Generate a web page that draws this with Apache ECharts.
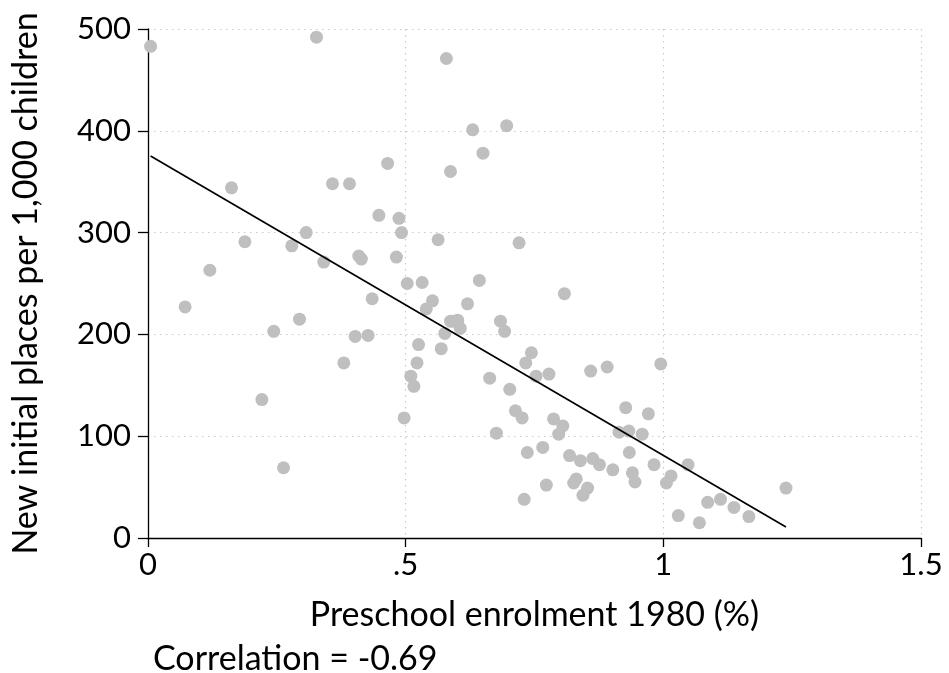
<!DOCTYPE html>
<html>
<head>
<meta charset="utf-8">
<script src="https://cdn.jsdelivr.net/npm/echarts@6/dist/echarts.min.js"></script>
<style>html,body{margin:0;padding:0;background:#fff}#c{width:949px;height:673px}</style>
</head>
<body>
<div id="c"></div>
<script>
// Preschool enrolment 1980 (share) for each point
const enrolment = [0.005,0.327,0.579,0.465,0.587,0.162,0.358,0.391,0.448,0.487,0.492,0.563,0.307,0.188,0.279,0.409,0.414,0.482,0.341,0.120,0.503,0.532,
  0.630,0.696,0.650,0.720,0.643,0.072,0.244,0.294,0.435,0.552,0.540,0.587,0.576,0.569,0.402,0.427,0.380,0.525,0.522,0.510,0.516,0.497,0.221,0.263,
  0.808,0.620,0.592,0.601,0.606,0.684,0.692,0.744,0.733,0.663,0.753,0.778,0.859,0.891,0.995,0.702,0.713,0.726,0.787,0.805,0.797,0.676,0.927,0.971,
  0.914,0.933,0.959,0.934,0.736,0.766,0.818,0.839,0.863,0.876,0.902,0.940,0.945,0.982,1.048,1.015,1.006,0.831,0.826,0.853,0.844,0.773,0.730,
  1.086,1.111,1.137,1.166,1.029,1.070,1.238];
// New initial places per 1,000 children
const places = [483,492,471,368,360,344,348,348,317,314,300,293,300,291,287,277,274,276,271,263,250,251,
  401,405,378,290,253,227,203,215,235,233,225,213,201,186,198,199,172,190,172,159,149,118,136,69,
  240,230,213,214,206,213,203,182,172,157,159,161,164,168,171,146,125,118,117,110,102,103,128,122,
  104,105,102,84,84,89,81,76,78,72,67,64,55,72,72,61,54,58,54,49,42,52,38,
  35,38,30,21,22,15,49];
// Fitted regression line endpoints
const fitX = [0.005, 1.238];
const fitY = [375.3, 10.8];
const xTicks = [0, 0.5, 1, 1.5];
const xTickLabels = ['0', '.5', '1', '1.5'];
const yTicks = [0, 100, 200, 300, 400, 500];
const xTitle = 'Preschool enrolment 1980 (%)';
const yTitle = 'New initial places per 1,000 children';
const note = 'Correlation = -0.69';

const FONT = 'Lato';
const chart = echarts.init(document.getElementById('c'), null, {renderer: 'canvas'});
chart.setOption({
  animation: false,
  backgroundColor: '#fff',
  grid: {left: 148, right: 28, top: 29, bottom: 135, containLabel: false},
  xAxis: {
    type: 'value', min: xTicks[0], max: xTicks[xTicks.length - 1], interval: 0.5,
    name: xTitle, nameLocation: 'middle', nameGap: 60,
    nameTextStyle: {fontFamily: FONT, fontSize: 34, color: '#000'},
    axisLine: {show: true, onZero: false, lineStyle: {color: '#000', width: 1.3}},
    axisTick: {show: true, length: 9, lineStyle: {color: '#000', width: 1.3}},
    axisLabel: {fontFamily: FONT, fontSize: 31, color: '#000', margin: 11,
      formatter: v => xTickLabels[xTicks.indexOf(v)] ?? String(v)},
    splitLine: {show: true, lineStyle: {color: '#c8c8c8', type: [1.5, 4.5], width: 1.2}}
  },
  yAxis: {
    type: 'value', min: yTicks[0], max: yTicks[yTicks.length - 1], interval: 100,
    name: yTitle, nameLocation: 'middle', nameGap: 105, nameRotate: 90,
    nameTextStyle: {fontFamily: FONT, fontSize: 34, color: '#000'},
    axisLine: {show: true, onZero: false, lineStyle: {color: '#000', width: 1.3}},
    axisTick: {show: true, length: 10, lineStyle: {color: '#000', width: 1.3}},
    axisLabel: {fontFamily: FONT, fontSize: 31, color: '#000', margin: 17},
    splitLine: {show: true, lineStyle: {color: '#c8c8c8', type: [1.5, 4.5], width: 1.2}}
  },
  series: [
    {
      type: 'scatter', symbol: 'circle', symbolSize: 13,
      itemStyle: {color: '#bfbfbf', opacity: 1},
      data: enrolment.map((x, i) => [x, places[i]]),
      z: 2
    },
    {
      type: 'line', symbol: 'none', showSymbol: false,
      lineStyle: {color: '#000', width: 1.7},
      data: fitX.map((x, i) => [x, fitY[i]]),
      z: 3
    }
  ],
  graphic: [{
    type: 'text', left: 153, top: 642,
    style: {text: note, fontFamily: FONT, fontSize: 34, fill: '#000'}
  }]
});
</script>
</body>
</html>
